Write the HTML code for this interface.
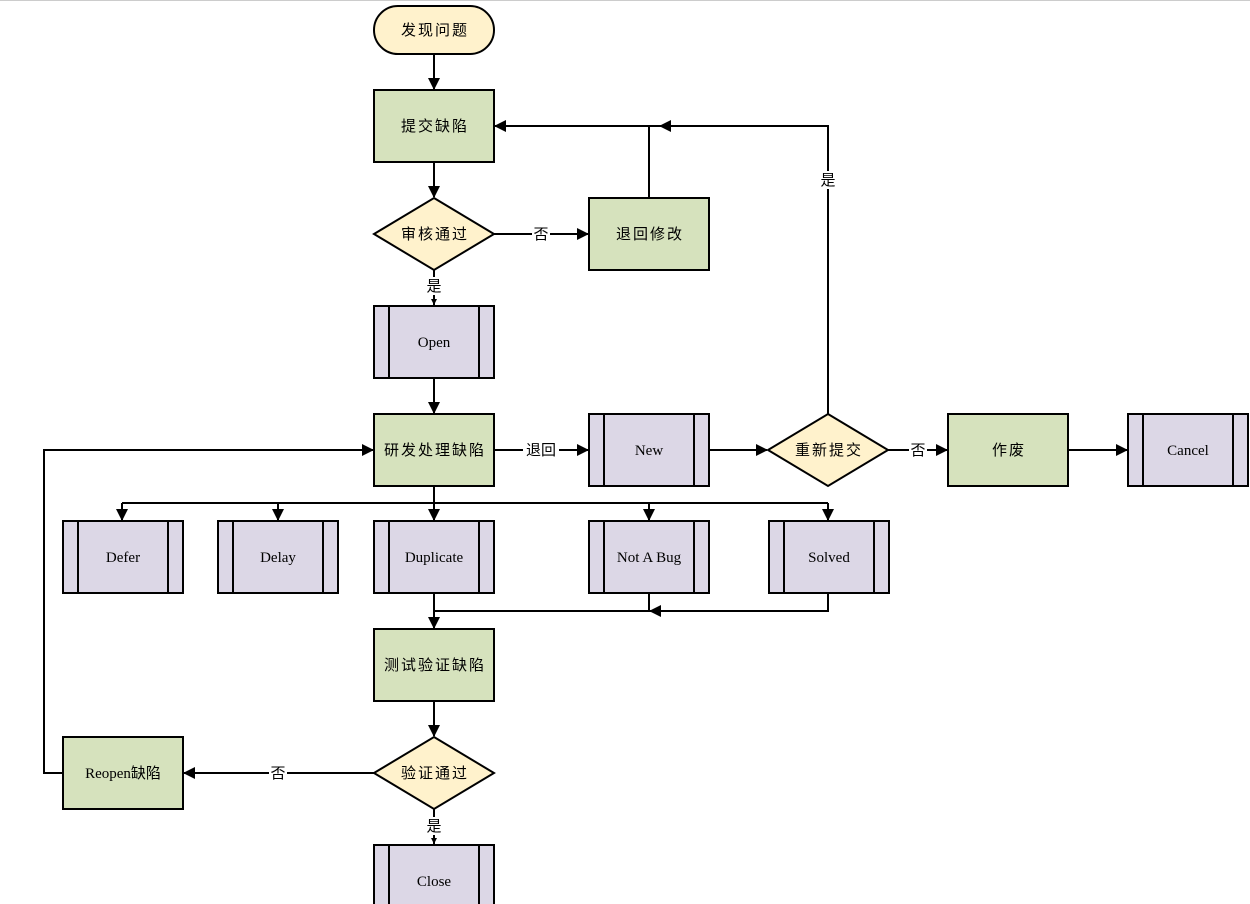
<!DOCTYPE html>
<html><head><meta charset="utf-8"><style>
html,body{margin:0;padding:0;background:#fff;width:1250px;height:904px;overflow:hidden}
svg text{font-family:"Liberation Serif","Noto Sans CJK SC",serif;font-size:15px;text-anchor:middle;dominant-baseline:central;fill:#000}
svg text.c{letter-spacing:2px}
</style></head><body>
<svg width="1250" height="904" xmlns="http://www.w3.org/2000/svg">
<defs><marker id="a" markerWidth="12" markerHeight="12" refX="11" refY="6" orient="auto" markerUnits="userSpaceOnUse"><path d="M0,0 L12,6 L0,12 Z" fill="#000"/></marker>
<marker id="s" markerWidth="6" markerHeight="6" refX="6" refY="3" orient="auto" markerUnits="userSpaceOnUse"><path d="M0,0 L6,3 L0,6 Z" fill="#000"/></marker></defs>
<line x1="0" y1="0.5" x2="1250" y2="0.5" stroke="#ccc"/>
<g stroke="#000" stroke-width="2" fill="none">
<line x1="434" y1="54" x2="434" y2="89" marker-end="url(#a)"/>
<line x1="434" y1="162" x2="434" y2="197" marker-end="url(#a)"/>
<line x1="494" y1="234" x2="588" y2="234" marker-end="url(#a)"/>
<line x1="434" y1="270" x2="434" y2="305" marker-end="url(#s)"/>
<line x1="434" y1="378" x2="434" y2="413" marker-end="url(#a)"/>
<polyline points="649,198 649,126"/>
<polyline points="828,414 828,126 660,126" marker-end="url(#a)"/>
<line x1="660" y1="126" x2="495" y2="126" marker-end="url(#a)"/>
<line x1="494" y1="450" x2="588" y2="450" marker-end="url(#a)"/>
<line x1="709" y1="450" x2="767" y2="450" marker-end="url(#a)"/>
<line x1="888" y1="450" x2="947" y2="450" marker-end="url(#a)"/>
<line x1="1068" y1="450" x2="1127" y2="450" marker-end="url(#a)"/>
<line x1="434" y1="486" x2="434" y2="520" marker-end="url(#a)"/>
<line x1="122" y1="503" x2="828" y2="503"/>
<line x1="122" y1="503" x2="122" y2="520" marker-end="url(#a)"/>
<line x1="278" y1="503" x2="278" y2="520" marker-end="url(#a)"/>
<line x1="649" y1="503" x2="649" y2="520" marker-end="url(#a)"/>
<line x1="828" y1="503" x2="828" y2="520" marker-end="url(#a)"/>
<line x1="434" y1="593" x2="434" y2="628" marker-end="url(#a)"/>
<polyline points="649,593 649,611 434,611"/>
<polyline points="828,593 828,611 650,611" marker-end="url(#a)"/>
<line x1="434" y1="701" x2="434" y2="736" marker-end="url(#a)"/>
<line x1="374" y1="773" x2="184" y2="773" marker-end="url(#a)"/>
<line x1="434" y1="809" x2="434" y2="844" marker-end="url(#s)"/>
<polyline points="63,773 44,773 44,450 373,450" marker-end="url(#a)"/>
</g>
<g stroke="#000" stroke-width="2">
<rect x="374" y="6" width="120" height="48" rx="24" fill="#fff2cc"/>
<rect x="374" y="90" width="120" height="72" fill="#d6e2bd"/>
<polygon points="434,198 494,234 434,270 374,234" fill="#fff2cc"/>
<rect x="589" y="198" width="120" height="72" fill="#d6e2bd"/>
<rect x="374" y="414" width="120" height="72" fill="#d6e2bd"/>
<polygon points="828,414 888,450 828,486 768,450" fill="#fff2cc"/>
<rect x="948" y="414" width="120" height="72" fill="#d6e2bd"/>
<rect x="374" y="629" width="120" height="72" fill="#d6e2bd"/>
<polygon points="434,737 494,773 434,809 374,773" fill="#fff2cc"/>
<rect x="63" y="737" width="120" height="72" fill="#d6e2bd"/>
</g>
<g stroke="#000" stroke-width="2" fill="#dcd7e6">
<g transform="translate(374,306)"><rect width="120" height="72"/><line x1="15" y1="0" x2="15" y2="72"/><line x1="105" y1="0" x2="105" y2="72"/></g>
<g transform="translate(589,414)"><rect width="120" height="72"/><line x1="15" y1="0" x2="15" y2="72"/><line x1="105" y1="0" x2="105" y2="72"/></g>
<g transform="translate(1128,414)"><rect width="120" height="72"/><line x1="15" y1="0" x2="15" y2="72"/><line x1="105" y1="0" x2="105" y2="72"/></g>
<g transform="translate(63,521)"><rect width="120" height="72"/><line x1="15" y1="0" x2="15" y2="72"/><line x1="105" y1="0" x2="105" y2="72"/></g>
<g transform="translate(218,521)"><rect width="120" height="72"/><line x1="15" y1="0" x2="15" y2="72"/><line x1="105" y1="0" x2="105" y2="72"/></g>
<g transform="translate(374,521)"><rect width="120" height="72"/><line x1="15" y1="0" x2="15" y2="72"/><line x1="105" y1="0" x2="105" y2="72"/></g>
<g transform="translate(589,521)"><rect width="120" height="72"/><line x1="15" y1="0" x2="15" y2="72"/><line x1="105" y1="0" x2="105" y2="72"/></g>
<g transform="translate(769,521)"><rect width="120" height="72"/><line x1="15" y1="0" x2="15" y2="72"/><line x1="105" y1="0" x2="105" y2="72"/></g>
<g transform="translate(374,845)"><rect width="120" height="72"/><line x1="15" y1="0" x2="15" y2="72"/><line x1="105" y1="0" x2="105" y2="72"/></g>
</g>
<g fill="#fff">
<rect x="532" y="225" width="18" height="18"/><rect x="425" y="277" width="18" height="18"/>
<rect x="819" y="171" width="18" height="18"/><rect x="523" y="441" width="36" height="18"/>
<rect x="909" y="441" width="18" height="18"/><rect x="269" y="764" width="18" height="18"/>
<rect x="425" y="817" width="18" height="18"/>
</g>
<text class="c" x="435" y="31">发现问题</text>
<text class="c" x="435" y="127">提交缺陷</text>
<text class="c" x="435" y="235">审核通过</text>
<text class="c" x="650" y="235">退回修改</text>
<text x="434" y="343">Open</text>
<text class="c" x="435" y="451">研发处理缺陷</text>
<text x="649" y="451">New</text>
<text class="c" x="829" y="451">重新提交</text>
<text class="c" x="1009" y="451">作废</text>
<text x="1188" y="451">Cancel</text>
<text x="123" y="558">Defer</text>
<text x="278" y="558">Delay</text>
<text x="434" y="558">Duplicate</text>
<text x="649" y="558">Not A Bug</text>
<text x="829" y="558">Solved</text>
<text class="c" x="435" y="666">测试验证缺陷</text>
<text class="c" x="435" y="774">验证通过</text>
<text x="123" y="774">Reopen缺陷</text>
<text x="434" y="882">Close</text>
<text x="541" y="235">否</text>
<text x="434" y="287">是</text>
<text x="828" y="181">是</text>
<text x="541" y="451">退回</text>
<text x="918" y="451">否</text>
<text x="278" y="774">否</text>
<text x="434" y="827">是</text>
</svg>
</body></html>
